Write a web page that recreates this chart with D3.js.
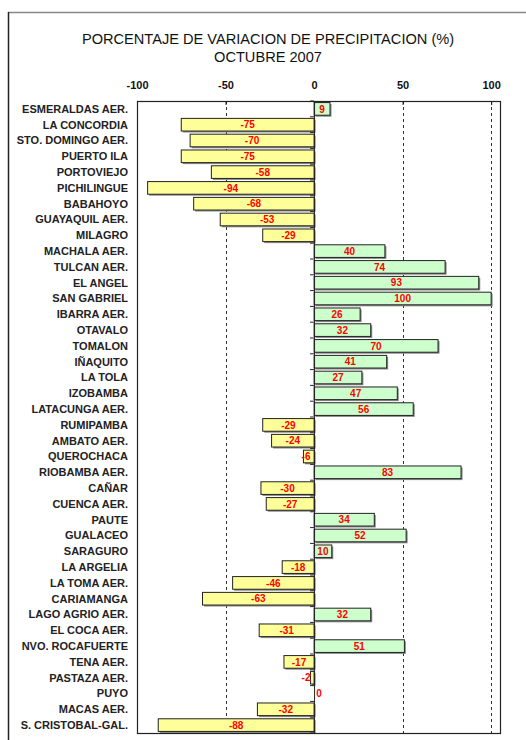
<!DOCTYPE html>
<html>
<head>
<meta charset="utf-8">
<script src="https://cdn.jsdelivr.net/npm/d3@7"></script>
<style>
  body { margin: 0; background: #fff; }
  svg { display: block; }
</style>
</head>
<body>
<div id="chart"></div>
<script>
// chart data
const stations = [
    "ESMERALDAS AER.", "LA CONCORDIA", "STO. DOMINGO AER.", "PUERTO ILA", "PORTOVIEJO",
    "PICHILINGUE", "BABAHOYO", "GUAYAQUIL AER.", "MILAGRO", "MACHALA AER.",
    "TULCAN AER.", "EL ANGEL", "SAN GABRIEL", "IBARRA AER.", "OTAVALO",
    "TOMALON", "IÑAQUITO", "LA TOLA", "IZOBAMBA", "LATACUNGA AER.",
    "RUMIPAMBA", "AMBATO AER.", "QUEROCHACA", "RIOBAMBA AER.", "CAÑAR",
    "CUENCA AER.", "PAUTE", "GUALACEO", "SARAGURO", "LA ARGELIA",
    "LA TOMA AER.", "CARIAMANGA", "LAGO AGRIO AER.", "EL COCA AER.", "NVO. ROCAFUERTE",
    "TENA AER.", "PASTAZA AER.", "PUYO", "MACAS AER.", "S. CRISTOBAL-GAL."
];
const variation = [
    9, -75, -70, -75, -58,
    -94, -68, -53, -29, 40,
    74, 93, 100, 26, 32,
    70, 41, 27, 47, 56,
    -29, -24, -6, 83, -30,
    -27, 34, 52, 10, -18,
    -46, -63, 32, -31, 51,
    -17, -2, 0, -32, -88
];
const xTicks = [-100, -50, 0, 50, 100];
const titleLines = ["PORCENTAJE DE VARIACION DE PRECIPITACION (%)", "OCTUBRE 2007"];

const width = 526;
const height = 740;
const plot = { left: 137, right: 500, top: 101, bottom: 733 };

const svg = d3.select("#chart")
    .append("svg")
    .attr("width", width)
    .attr("height", height);

// outer chart border (top and left visible)
svg.append("line")
    .attr("x1", 8).attr("x2", width).attr("y1", 12.5).attr("y2", 12.5)
    .attr("stroke", "#888").attr("stroke-width", 1.5);
svg.append("line")
    .attr("x1", 8.5).attr("x2", 8.5).attr("y1", 12).attr("y2", height)
    .attr("stroke", "#222").attr("stroke-width", 1.5);

// title
svg.selectAll(".title")
    .data(titleLines)
    .enter()
    .append("text")
    .attr("class", "title")
    .attr("x", 268)
    .attr("y", (d, i) => 44 + i * 18)
    .attr("text-anchor", "middle")
    .style("font-family", "Liberation Sans, Arial, sans-serif")
    .style("font-size", "14.6px")
    .style("fill", "#111")
    .text(d => d);

// scales
const x = d3.scaleLinear()
    .domain([-100, 105])
    .range([plot.left, plot.right]);

const y = d3.scaleBand()
    .domain(stations)
    .range([plot.top, plot.bottom])
    .paddingInner(0.2)
    .paddingOuter(0.1);

const x0 = x(0);

// dashed gridlines
svg.selectAll(".grid")
    .data(xTicks.filter(t => t !== 0 && t !== -100))
    .enter()
    .append("line")
    .attr("x1", d => Math.round(x(d)) + 0.5)
    .attr("x2", d => Math.round(x(d)) + 0.5)
    .attr("y1", plot.top)
    .attr("y2", plot.bottom)
    .attr("stroke", "#333")
    .attr("stroke-dasharray", "3,3");

// top axis (labels + small ticks)
const axisTop = svg.append("g")
    .attr("transform", `translate(0,${plot.top})`)
    .call(d3.axisTop(x).tickValues(xTicks).tickSize(-4).tickPadding(12).tickFormat(d => String(d)));
axisTop.select(".domain").remove();
axisTop.selectAll("line").attr("stroke", "#111");
axisTop.selectAll("text")
    .style("font-family", "Liberation Sans Narrow, Arial Narrow, sans-serif")
    .style("font-weight", "bold")
    .style("font-size", "11px")
    .style("fill", "#111");

// bars: shadow then fill
const barData = stations.map((s, i) => ({ name: s, value: variation[i] }));

svg.selectAll(".shadow")
    .data(barData)
    .enter()
    .append("rect")
    .attr("x", d => Math.min(x(d.value), x0) + 1.5)
    .attr("y", d => y(d.name) + 1.5)
    .attr("width", d => Math.abs(x(d.value) - x0))
    .attr("height", y.bandwidth())
    .attr("fill", "#8a8a8a");

svg.selectAll(".bar")
    .data(barData)
    .enter()
    .append("rect")
    .attr("x", d => Math.min(x(d.value), x0))
    .attr("y", d => y(d.name))
    .attr("width", d => Math.abs(x(d.value) - x0))
    .attr("height", y.bandwidth())
    .attr("fill", d => d.value < 0 ? "#ffff99" : "#ccffcc")
    .attr("stroke", "#222")
    .attr("stroke-width", 1);

// plot frame
svg.append("rect")
    .attr("x", plot.left + 0.5)
    .attr("y", plot.top + 0.5)
    .attr("width", plot.right - plot.left)
    .attr("height", plot.bottom - plot.top)
    .attr("fill", "none")
    .attr("stroke", "#222")
    .attr("stroke-width", 1.2);

// zero axis with category ticks at band boundaries
const zeroAxis = svg.append("g")
    .attr("transform", `translate(${x0},0)`)
    .call(d3.axisLeft(y).tickSize(0).tickFormat(""));
zeroAxis.select(".domain").attr("stroke", "#222");
svg.selectAll(".cattick")
    .data(d3.range(stations.length + 1))
    .enter()
    .append("line")
    .attr("x1", x0 - 4)
    .attr("x2", x0)
    .attr("y1", i => plot.top + i * y.step())
    .attr("y2", i => plot.top + i * y.step())
    .attr("stroke", "#222");

// category labels
svg.selectAll(".cat")
    .data(stations)
    .enter()
    .append("text")
    .attr("x", 128)
    .attr("y", d => y(d) + y.bandwidth() / 2)
    .attr("dy", "0.36em")
    .attr("text-anchor", "end")
    .style("font-family", "Liberation Sans, Arial, sans-serif")
    .style("font-weight", "bold")
    .style("font-size", "11px")
    .style("fill", "#222")
    .text(d => d);

// value labels (pushed outside when the bar is too short)
svg.selectAll(".val")
    .data(barData)
    .enter()
    .append("text")
    .attr("x", d => {
        const mid = (x(d.value) + x0) / 2;
        return d.value < 0 ? Math.min(mid, x0 - 8) : Math.max(mid, x0 + 5);
    })
    .attr("y", d => y(d.name) + y.bandwidth() / 2)
    .attr("dy", "0.36em")
    .attr("text-anchor", "middle")
    .style("font-family", "Liberation Sans Narrow, Arial Narrow, sans-serif")
    .style("font-weight", "bold")
    .style("font-size", "10px")
    .style("fill", "#ff0000")
    .text(d => d.value);
</script>
</body>
</html>
